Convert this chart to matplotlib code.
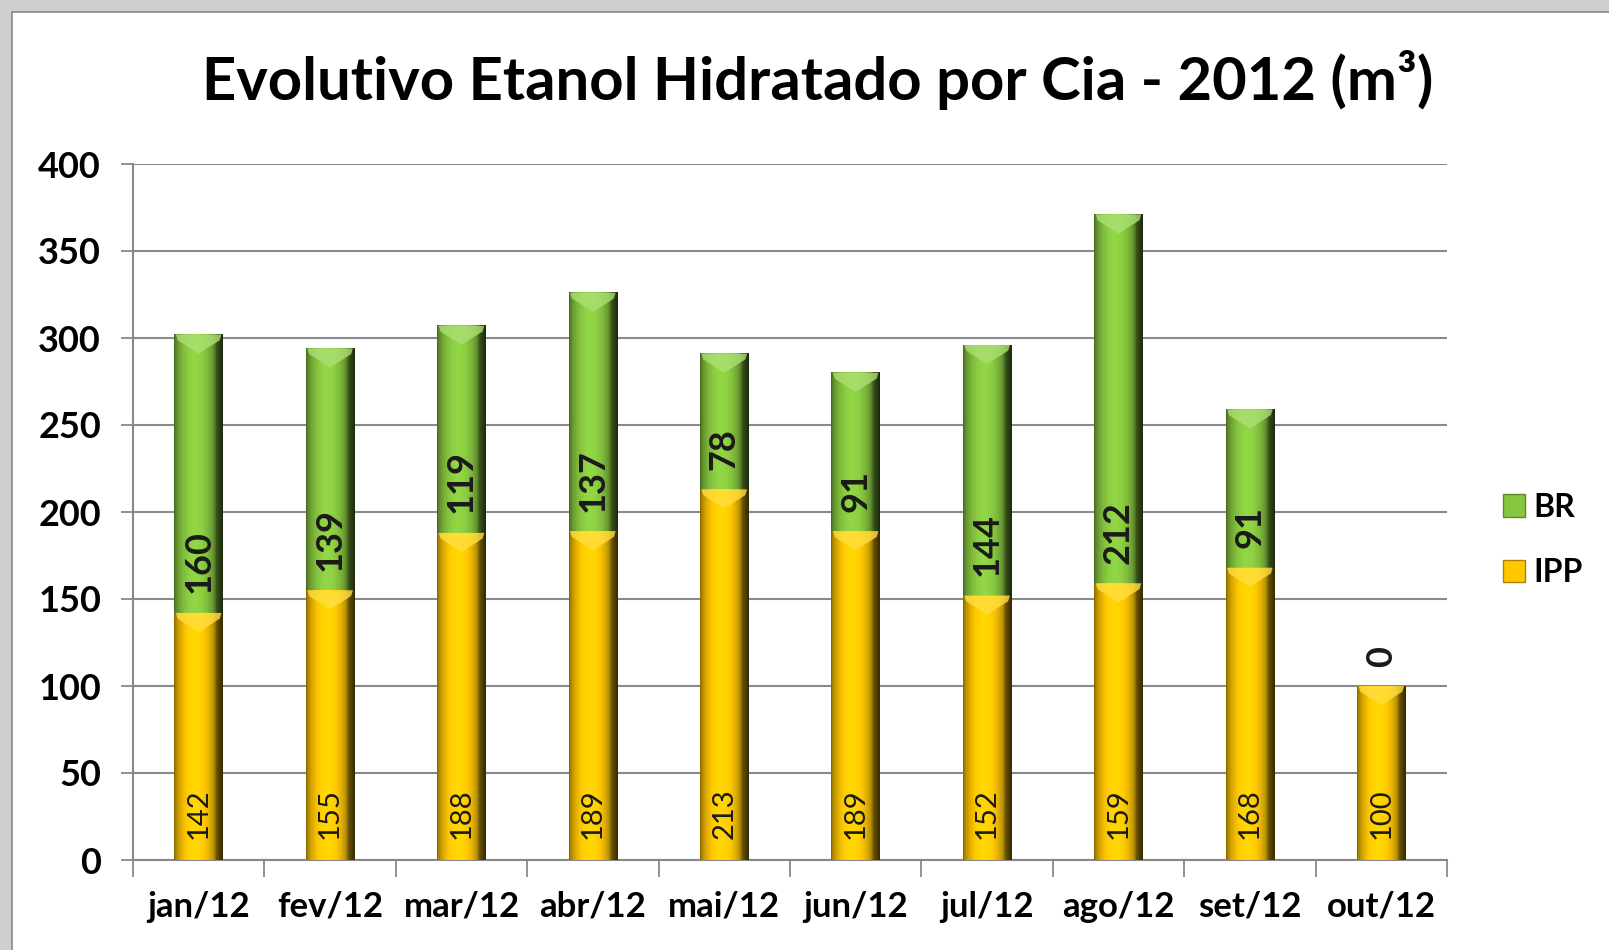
import numpy as np
import matplotlib.pyplot as plt
from matplotlib.patches import Rectangle, Polygon, Patch

# dados
meses = ['jan/12', 'fev/12', 'mar/12', 'abr/12', 'mai/12',
         'jun/12', 'jul/12', 'ago/12', 'set/12', 'out/12']
ipp = [142, 155, 188, 189, 213, 189, 152, 159, 168, 100]
br = [160, 139, 119, 137, 78, 91, 144, 212, 91, 0]

cor_br = (0.53, 0.78, 0.25)
cor_ipp = (1.00, 0.78, 0.00)

plt.rcParams['font.family'] = ['Lato', 'DejaVu Sans']

fig = plt.figure(figsize=(16.09, 9.5), dpi=100)
W, H = 1609, 950

# moldura cinza com borda
fig.patches.append(Rectangle((0, 0), 1, 1, transform=fig.transFigure,
                             facecolor='#cfcfcf', edgecolor='none', zorder=-10))
fig.patches.append(Rectangle((12 / W, -0.1), 1.2, (H - 12) / H + 0.1,
                             transform=fig.transFigure, facecolor='white',
                             edgecolor='#8a8a8a', lw=1.2, zorder=-9))

ax = fig.add_axes([133 / W, 1 - 860 / H, (1447 - 133) / W, (860 - 164) / H])
ax.set_facecolor('none')

x = np.arange(len(meses))
larg = 0.37


def cilindro(xc, base, altura, cor, z):
    if altura <= 0:
        return
    u = np.linspace(0, 1, 80)
    sombra = 0.5 + 0.58 * np.sin(np.pi * np.clip(u * 1.15, 0, 1)) ** 0.6
    sombra = np.where(u > 0.82, sombra * (1 - (u - 0.82) * 3.2), sombra)
    rgb = np.clip(np.array(cor)[None, None, :] * sombra[None, :, None], 0, 1)
    x0, x1 = xc - larg / 2, xc + larg / 2
    topo = base + altura
    ax.imshow(rgb, extent=[x0, x1, base, topo], aspect='auto',
              interpolation='bilinear', zorder=z)
    # chanfro do topo
    d = min(11, altura * 0.6)
    claro = tuple(min(1, c * 0.8 + 0.25) for c in cor)
    ax.add_patch(Polygon([(x0 + 0.012, topo), (x1 - 0.012, topo), (x1 - 0.025, topo - d * 0.3),
                          (xc, topo - d), (x0 + 0.025, topo - d * 0.3)],
                         closed=True, facecolor=claro, edgecolor='none',
                         alpha=0.8, zorder=z + 0.1))


for i in range(len(meses)):
    cilindro(x[i], 0, ipp[i], cor_ipp, 3)
    cilindro(x[i], ipp[i], br[i], cor_br, 3)
    ax.annotate(str(ipp[i]), (x[i], 0), xytext=(0, 15), textcoords='offset points',
                rotation=90, ha='center', va='bottom', fontsize=21,
                color='#1a1a1a', zorder=6)
    ax.annotate(str(br[i]), (x[i], ipp[i]), xytext=(0, 14), textcoords='offset points',
                rotation=90, ha='center', va='bottom', fontsize=26,
                fontweight='bold', color='#1a1a1a', zorder=6)

ax.set_xlim(-0.5, len(meses) - 0.5)
ax.set_ylim(0, 400)
ax.set_yticks(range(0, 401, 50))
ax.set_xticks(x)
ax.set_xticklabels(meses, fontsize=25, fontweight='bold')
ax.set_xticks(np.arange(-0.5, len(meses), 1), minor=True)
ax.tick_params(axis='x', which='major', length=0, pad=22)
ax.tick_params(axis='x', which='minor', length=12, width=1.3, color='#888888', direction='out')
ax.tick_params(axis='y', length=9, width=1.3, color='#888888', labelsize=26, pad=14)
for lb in ax.get_yticklabels():
    lb.set_fontweight('bold')

ax.grid(axis='y', color='#8a8a8a', lw=1.5, zorder=1)
ax.set_axisbelow(True)
for s in ['top', 'right']:
    ax.spines[s].set_visible(False)
for s in ['left', 'bottom']:
    ax.spines[s].set_color('#888888')
    ax.spines[s].set_linewidth(1.5)

fig.text(818 / W, 1 - 80 / H, 'Evolutivo Etanol Hidratado por Cia - 2012 (m³)',
         ha='center', va='center', fontsize=43, fontweight='bold')

legenda = [Patch(facecolor=cor_br, edgecolor='#5a8a2a', label='BR'),
           Patch(facecolor=cor_ipp, edgecolor='#b08000', label='IPP')]
fig.legend(handles=legenda, loc='center left', bbox_to_anchor=(1474 / W, 1 - 540 / H),
           frameon=False, prop={'weight': 'bold', 'size': 23},
           handlelength=0.7, handleheight=0.7, handletextpad=0.25, labelspacing=1.15)

fig.savefig('out.png', dpi=100)
